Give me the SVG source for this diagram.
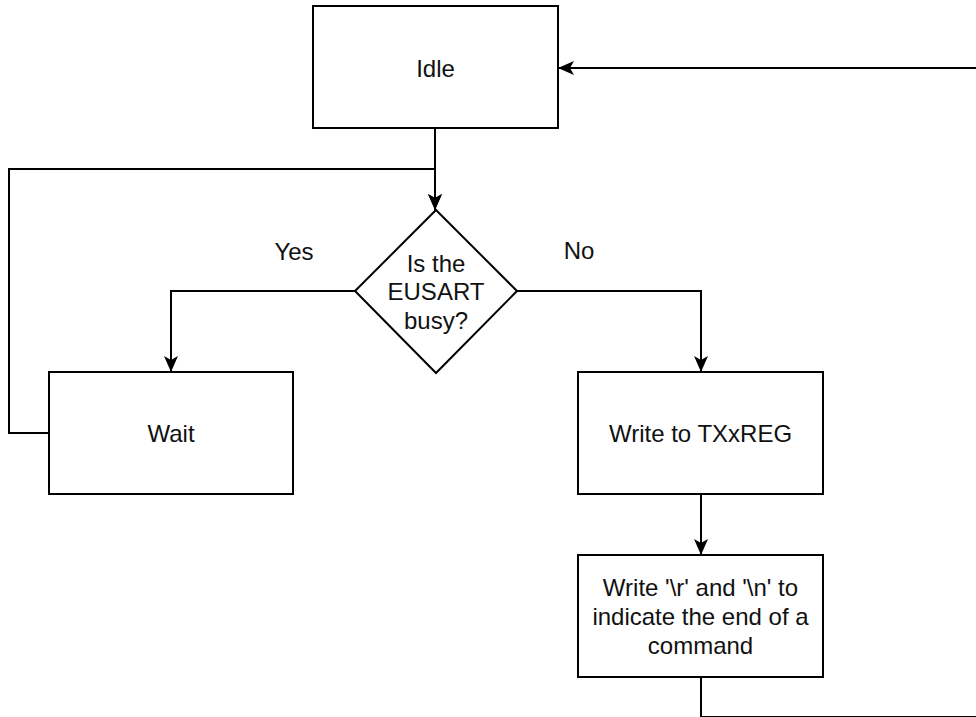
<svg xmlns="http://www.w3.org/2000/svg" width="976" height="717" viewBox="0 0 976 717">
<style>
.box{fill:#fff;stroke:#000;stroke-width:2}
.ln{fill:none;stroke:#000;stroke-width:2}
.t{font-family:"Liberation Sans",Arial,Helvetica,sans-serif;font-size:24px;fill:#111;text-anchor:middle}
</style>
<defs>
<marker id="arr" viewBox="0 0 16 14" refX="16" refY="7" markerWidth="16" markerHeight="14" markerUnits="userSpaceOnUse" orient="auto">
<path d="M0,0 L16,7 L0,14 L4,7 z" fill="#000"/>
</marker>
</defs>
<rect width="976" height="717" fill="#fff"/>
<g id="connectors">
<path class="ln" d="M435,128 V210" marker-end="url(#arr)"/>
<path class="ln" d="M49,433 H9 V169 H435 V210" marker-end="url(#arr)"/>
<path class="ln" d="M355,291 H171 V372" marker-end="url(#arr)"/>
<path class="ln" d="M517,291 H701 V372" marker-end="url(#arr)"/>
<path class="ln" d="M701,494 V555" marker-end="url(#arr)"/>
<path class="ln" d="M701,677 V717 H990 V68 H558" marker-end="url(#arr)"/>
</g>
<g id="idle">
<rect class="box" x="313" y="6" width="245" height="122"/>
<text class="t" x="435.5" y="77">Idle</text>
</g>
<g id="decision">
<polygon class="box" points="436,210 517,291 436,373 355,291"/>
<text class="t" x="436" y="272">Is the</text>
<text class="t" x="436" y="300">EUSART</text>
<text class="t" x="436" y="329">busy?</text>
</g>
<g id="label-yes"><text class="t" x="294" y="260">Yes</text></g>
<g id="label-no"><text class="t" x="579" y="259">No</text></g>
<g id="wait">
<rect class="box" x="49" y="372" width="244" height="122"/>
<text class="t" x="171" y="442">Wait</text>
</g>
<g id="write">
<rect class="box" x="578" y="372" width="245" height="122"/>
<text class="t" x="700.5" y="442">Write to TXxREG</text>
</g>
<g id="write-crlf">
<rect class="box" x="578" y="555" width="245" height="122"/>
<text class="t" x="700.5" y="596">Write '\r' and '\n' to</text>
<text class="t" x="700.5" y="625">indicate the end of a</text>
<text class="t" x="700.5" y="654">command</text>
</g>
</svg>
